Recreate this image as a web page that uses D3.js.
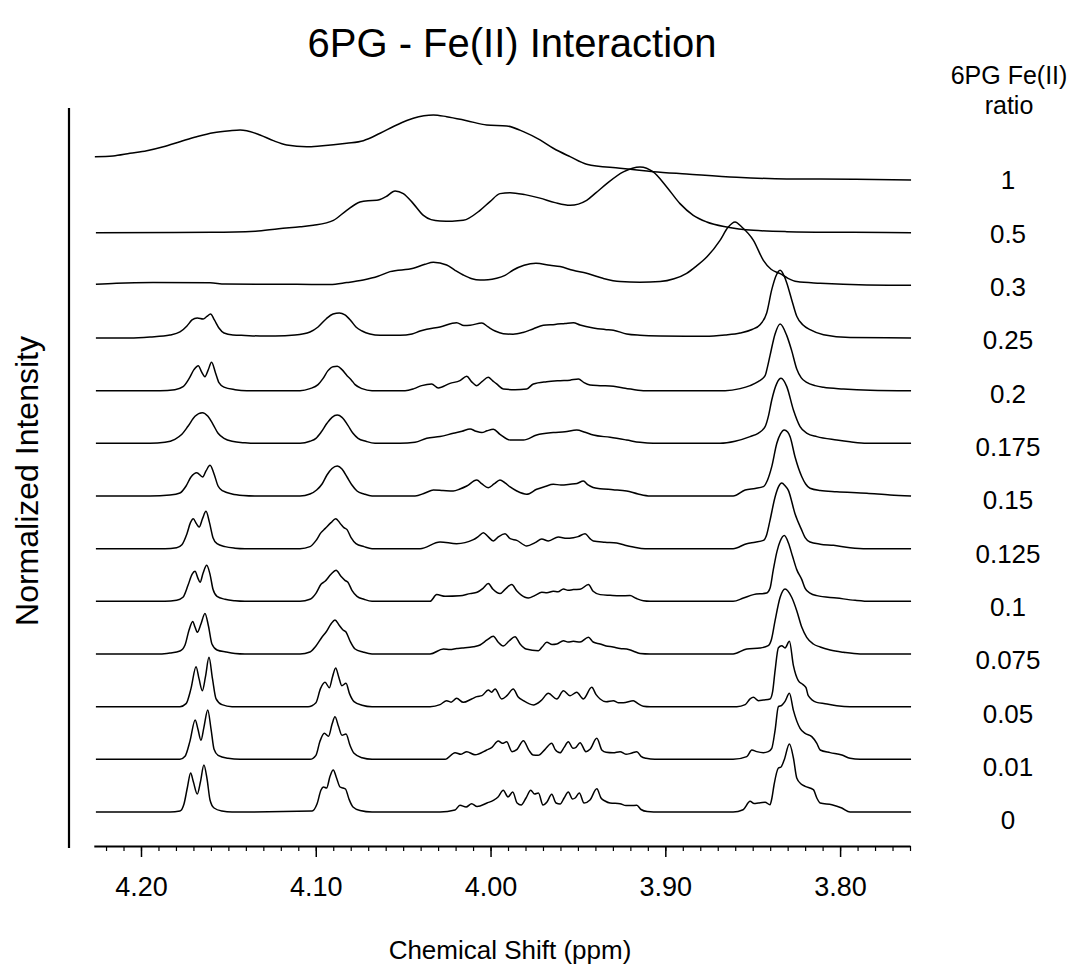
<!DOCTYPE html>
<html><head><meta charset="utf-8">
<script src="https://cdn.jsdelivr.net/npm/d3@7"></script>
<style>
body{margin:0;background:#fff}
svg{display:block}
text{font-family:"Liberation Sans",Arial,Helvetica,sans-serif;fill:#000}
</style>
</head><body>
<svg id="chart" width="1082" height="970"></svg>
<script>
// ---- data: chemical shift (ppm), intensity (a.u.) ----
const ratioLabels = ["0","0.01","0.05","0.075","0.1","0.125","0.15","0.175","0.2","0.25","0.3","0.5","1"];

const spec_0 = [[4.2258,0],[4.1834,0],[4.1777,1],[4.1754,8],[4.1734,25],[4.1716,39],[4.1700,30],[4.1678,18],[4.1660,30],[4.1640,47],[4.1622,33],[4.1605,12],[4.1582,4],[4.1537,1],[4.1479,0],
[4.1021,1],[4.0993,8],[4.0970,22],[4.0956,25],[4.0938,24],[4.0918,36],[4.0900,42],[4.0881,34],[4.0861,25],[4.0844,24],[4.0830,23],[4.0810,13],[4.0787,5],[4.0747,1.5],[4.0678,0],
[4.0289,0],[4.0203,2],[4.0175,6.7],[4.0140,5],[4.0108,8.3],[4.0077,5.5],[4.0020,9],[3.9984,11.7],[3.9957,15],[3.9927,21.7],[3.9900,15],[3.9873,20],[3.9848,9],[3.9825,7],[3.9797,14],[3.9770,21.7],[3.9748,18],[3.9726,19],[3.9700,7],[3.9677,10],[3.9650,17.7],[3.9625,9],[3.9602,8],[3.9579,14],[3.9555,20],[3.9531,13],[3.9516,14],[3.9492,19],[3.9465,9],[3.9431,12],[3.9392,23.3],[3.9368,14],[3.9345,11],[3.9316,9],[3.9259,8.3],[3.9225,6.5],[3.9196,6.5],[3.9163,6.7],[3.9139,2.5],[3.9104,0.5],[3.9030,0],
[3.8612,0],[3.8555,2.3],[3.8515,10.7],[3.8492,8.5],[3.8468,9],[3.8429,9.7],[3.8401,7.3],[3.8390,14],[3.8378,27],[3.8353,44],[3.8338,45],[3.8320,52],[3.8290,68],[3.8267,54],[3.8248,34],[3.8223,28],[3.8200,25.7],[3.8153,22.3],[3.8133,14],[3.8114,9],[3.8047,7.3],[3.7990,4],[3.7943,0],[3.7594,0]];

const spec_001 = [[4.2258,0],[4.1777,0],[4.1748,3],[4.1720,18],[4.1690,39.3],[4.1674,30],[4.1657,19],[4.1640,32],[4.1618,49.3],[4.1599,30],[4.1582,10],[4.1559,4],[4.1502,1],[4.1433,0],
[4.1033,0],[4.0999,4],[4.0976,18],[4.0951,26],[4.0927,23],[4.0907,35],[4.0890,42.6],[4.0870,33],[4.0850,24],[4.0827,25.3],[4.0804,14],[4.0781,6],[4.0735,1.5],[4.0678,0],
[4.0260,0],[4.0203,6.7],[4.0169,5],[4.0136,7.7],[4.0089,4.5],[4.0022,9.3],[3.9992,12],[3.9956,18.3],[3.9932,16],[3.9908,17.5],[3.9877,7.7],[3.9848,10],[3.9812,18.7],[3.9780,9],[3.9757,4.3],[3.9728,4],[3.9688,10],[3.9650,16],[3.9631,10],[3.9602,6.5],[3.9579,12],[3.9555,17.7],[3.9528,11],[3.9511,12],[3.9488,16.7],[3.9454,7.7],[3.9431,10],[3.9392,21],[3.9362,9],[3.9339,7],[3.9299,6.5],[3.9259,7.7],[3.9225,5],[3.9196,6],[3.9163,7.7],[3.9139,3],[3.9110,1],[3.9059,0],
[3.8612,0],[3.8534,2.7],[3.8505,9.3],[3.8477,7.7],[3.8439,6.7],[3.8411,7.7],[3.8391,11],[3.8372,29],[3.8353,52.7],[3.8334,54],[3.8315,58],[3.8290,66],[3.8267,49],[3.8229,31],[3.8200,26],[3.8162,22.7],[3.8133,16],[3.8114,9.3],[3.8057,6.7],[3.7990,4.3],[3.7943,1],[3.7886,0],[3.7594,0]];

const spec_005 = [[4.2258,0],[4.1777,0],[4.1742,3],[4.1714,18],[4.1685,40],[4.1668,28],[4.1649,16],[4.1631,30],[4.1611,49.3],[4.1591,28],[4.1571,8],[4.1537,2],[4.1479,0],
[4.1044,0],[4.0999,4],[4.0973,18],[4.0947,24.3],[4.0922,19],[4.0904,30],[4.0886,38.7],[4.0869,30],[4.0851,21],[4.0827,23.3],[4.0807,13],[4.0781,5],[4.0735,1.5],[4.0678,0],
[4.0346,0],[4.0289,2],[4.0251,6],[4.0226,4.5],[4.0194,8.3],[4.0156,4.3],[4.0108,7.7],[4.0079,10],[4.0049,11],[4.0013,16.7],[3.9994,14.5],[3.9974,17.7],[3.9936,7.7],[3.9906,11],[3.9870,17.7],[3.9843,10],[3.9812,6],[3.9755,1.7],[3.9711,6],[3.9669,13.3],[3.9621,7.7],[3.9583,16],[3.9545,11],[3.9507,14.3],[3.9469,7.7],[3.9421,19.3],[3.9396,12],[3.9373,7.7],[3.9339,5],[3.9297,6],[3.9270,4],[3.9240,4],[3.9183,6],[3.9156,3],[3.9126,0.5],[3.9087,0],
[3.8591,0],[3.8543,2],[3.8515,7.7],[3.8496,9.3],[3.8467,6],[3.8439,6.7],[3.8401,7.7],[3.8386,15],[3.8372,36],[3.8353,59],[3.8334,61],[3.8315,58.7],[3.8290,65.3],[3.8267,41],[3.8239,26],[3.8212,22],[3.8195,19],[3.8182,11],[3.8134,4.3],[3.8086,3],[3.8019,1],[3.7943,0],[3.7594,0]];

const spec_0075 = [[4.2258,0],[4.1891,0],[4.1834,1],[4.1777,3],[4.1748,9],[4.1725,24],[4.1704,32.6],[4.1691,27],[4.1678,21.7],[4.1657,30],[4.1634,40.6],[4.1614,28],[4.1594,10],[4.1565,4],[4.1514,2],[4.1462,0.5],[4.1405,0],
[4.1090,0],[4.1033,2],[4.0999,8],[4.0964,17],[4.0941,22],[4.0913,30],[4.0890,34],[4.0867,29],[4.0844,24],[4.0827,22],[4.0804,13],[4.0775,5],[4.0730,2],[4.0678,0],
[4.0346,0],[4.0270,5],[4.0232,4.5],[4.0194,5.5],[4.0163,6],[4.0098,7.3],[4.0060,9],[4.0020,14],[3.9984,17.7],[3.9957,12],[3.9927,8],[3.9894,13],[3.9860,17.3],[3.9831,10],[3.9797,5],[3.9726,3.3],[3.9705,7],[3.9678,11.7],[3.9648,9.5],[3.9621,10],[3.9583,13.3],[3.9557,12],[3.9526,12.7],[3.9488,12],[3.9440,16.7],[3.9413,12],[3.9373,10],[3.9339,8],[3.9299,7],[3.9259,5.5],[3.9221,5],[3.9185,3],[3.9145,0.5],[3.9087,0],
[3.8612,0],[3.8534,5],[3.8458,6],[3.8411,8.3],[3.8392,15],[3.8372,33.3],[3.8343,56.7],[3.8315,65],[3.8277,56.7],[3.8248,43.3],[3.8219,26.7],[3.8191,16.7],[3.8153,10],[3.8114,7],[3.8057,4],[3.7981,1.7],[3.7886,0],[3.7594,0]];

const spec_01 = [[4.2258,0],[4.1863,0],[4.1796,1],[4.1760,4],[4.1731,16],[4.1708,27],[4.1691,30],[4.1674,23],[4.1662,19],[4.1645,28],[4.1624,36],[4.1605,27],[4.1588,12],[4.1565,5],[4.1519,2],[4.1462,0.5],[4.1405,0],
[4.1090,0],[4.1033,2],[4.0999,8],[4.0970,17],[4.0947,20],[4.0913,27],[4.0884,31],[4.0856,25],[4.0833,21],[4.0816,19],[4.0793,11],[4.0764,5],[4.0724,2],[4.0678,0],
[4.0346,0],[4.0308,6.7],[4.0260,5],[4.0175,5.5],[4.0117,7.7],[4.0077,9],[4.0043,13],[4.0013,17.7],[3.9986,12],[3.9946,7.7],[3.9917,12],[3.9879,16.7],[3.9848,10],[3.9803,4],[3.9784,3.3],[3.9745,6],[3.9707,9],[3.9677,8.5],[3.9641,10],[3.9614,9.5],[3.9583,12.3],[3.9557,11],[3.9526,11.7],[3.9488,12],[3.9440,16.7],[3.9413,10],[3.9373,6.7],[3.9316,6],[3.9259,5.5],[3.9202,5.7],[3.9168,3],[3.9126,0.5],[3.9087,0],
[3.8612,0],[3.8553,3.3],[3.8496,6.7],[3.8420,8.3],[3.8401,13],[3.8382,31.7],[3.8361,50],[3.8343,60],[3.8319,65.7],[3.8295,58],[3.8272,45],[3.8248,31.7],[3.8219,21.7],[3.8200,13],[3.8172,8.3],[3.8133,5.7],[3.8019,3.3],[3.7914,1],[3.7828,0],[3.7594,0]];

const spec_0125 = [[4.2258,0],[4.1863,0],[4.1796,1],[4.1766,4],[4.1737,15],[4.1717,26],[4.1701,30],[4.1683,25],[4.1667,21.7],[4.1648,30],[4.1628,37.3],[4.1608,26],[4.1588,11],[4.1565,5],[4.1519,2],[4.1462,0.5],[4.1405,0],
[4.1090,0],[4.1033,2],[4.0999,8],[4.0970,16],[4.0947,20],[4.0913,26],[4.0886,30],[4.0859,25],[4.0839,21],[4.0821,19],[4.0798,11],[4.0770,5],[4.0724,2],[4.0678,0],
[4.0403,0],[4.0289,6.7],[4.0194,5],[4.0098,9],[4.0071,12],[4.0041,16],[4.0014,12],[3.9984,7.7],[3.9954,12],[3.9917,15],[3.9888,10],[3.9850,8.3],[3.9793,2.7],[3.9745,6],[3.9707,9.7],[3.9669,7.7],[3.9612,11.7],[3.9564,10.3],[3.9526,11],[3.9499,12],[3.9459,15],[3.9431,10],[3.9412,7.7],[3.9345,6.5],[3.9278,5.7],[3.9231,3.5],[3.9183,1.7],[3.9116,0],
[3.8612,0],[3.8534,5],[3.8486,6.5],[3.8439,8.3],[3.8420,14],[3.8401,28.3],[3.8372,51.7],[3.8352,62],[3.8334,65.7],[3.8315,63],[3.8296,58.3],[3.8258,35],[3.8219,18.3],[3.8200,11],[3.8172,6.7],[3.8114,4.5],[3.8038,3.3],[3.7943,1],[3.7847,0],[3.7594,0]];

const spec_015 = [[4.2258,0],[4.1948,0],[4.1834,1],[4.1777,3],[4.1742,10],[4.1714,19],[4.1681,23.3],[4.1647,19],[4.1628,25],[4.1605,30.7],[4.1582,22],[4.1559,10],[4.1531,5],[4.1479,2],[4.1416,0.5],[4.1348,0],
[4.1090,0],[4.1033,2],[4.0995,6],[4.0964,12],[4.0936,21],[4.0907,27.5],[4.0877,30],[4.0850,27],[4.0821,19],[4.0793,11],[4.0764,5],[4.0724,2],[4.0678,0],
[4.0432,0],[4.0375,3],[4.0327,6],[4.0272,5.5],[4.0213,5],[4.0175,7],[4.0136,10],[4.0079,16],[4.0049,12],[4.0013,8.3],[3.9980,12],[3.9946,16],[3.9917,13],[3.9888,9],[3.9850,5],[3.9793,1.7],[3.9736,6.7],[3.9688,9.5],[3.9641,11.7],[3.9597,11],[3.9545,11.7],[3.9505,12.5],[3.9469,15],[3.9442,11],[3.9413,8.5],[3.9373,7.3],[3.9299,6.3],[3.9221,5],[3.9156,2],[3.9087,0],
[3.8612,0],[3.8543,6],[3.8486,7.5],[3.8439,9.3],[3.8415,16],[3.8391,29.3],[3.8362,52.7],[3.8341,62],[3.8320,66],[3.8300,64],[3.8286,59.3],[3.8258,39.3],[3.8219,19.3],[3.8197,12],[3.8172,7.7],[3.8114,5.5],[3.8019,4.3],[3.7847,2.7],[3.7714,1],[3.7594,0]];

const spec_0175 = [[4.2258,0],[4.1948,0],[4.1863,1],[4.1806,4],[4.1766,9],[4.1731,17],[4.1691,27],[4.1649,30.6],[4.1617,27],[4.1588,19],[4.1559,10],[4.1525,5],[4.1479,2],[4.1405,0.5],[4.1348,0],
[4.1090,0],[4.1033,2],[4.0999,5],[4.0970,11],[4.0936,20],[4.0907,26],[4.0877,28.3],[4.0850,26],[4.0816,18],[4.0787,10],[4.0758,5],[4.0713,2],[4.0661,0],
[4.0518,0],[4.0432,1],[4.0365,5],[4.0289,6.7],[4.0213,10],[4.0163,12],[4.0117,14.3],[4.0083,12],[4.0050,10.7],[4.0020,12.5],[3.9984,14],[3.9946,9],[3.9888,3.3],[3.9812,3.3],[3.9736,8.3],[3.9641,10.7],[3.9574,11.5],[3.9507,13.3],[3.9459,11],[3.9412,8.3],[3.9316,6],[3.9221,3.3],[3.9145,1],[3.9070,0],
[3.8687,0],[3.8601,2],[3.8515,6.7],[3.8469,10],[3.8429,16.7],[3.8409,28],[3.8391,43.3],[3.8362,60],[3.8338,65],[3.8305,56.7],[3.8267,33.3],[3.8229,16.7],[3.8189,10],[3.8133,6.7],[3.8019,3.3],[3.7943,1.5],[3.7847,0],[3.7594,0]];

const spec_02 = [[4.2258,0],[4.1891,0],[4.1806,1],[4.1759,4],[4.1725,12],[4.1697,21],[4.1672,25],[4.1654,19],[4.1634,14],[4.1617,20],[4.1596,28.3],[4.1574,18],[4.1554,8],[4.1525,3.5],[4.1462,1],[4.1394,0],
[4.1090,0],[4.1033,2],[4.0987,6],[4.0959,12],[4.0930,20],[4.0901,24],[4.0877,24.3],[4.0850,21],[4.0821,15],[4.0798,11],[4.0775,6],[4.0735,2],[4.0678,0],
[4.0489,0],[4.0438,2],[4.0394,5],[4.0337,6.7],[4.0299,2.7],[4.0232,7.3],[4.0175,10],[4.0136,14.3],[4.0109,9],[4.0079,5],[4.0049,9],[4.0013,13.3],[3.9989,10],[3.9965,6.7],[3.9927,1.7],[3.9860,1],[3.9793,1.7],[3.9755,6.7],[3.9679,9],[3.9602,10],[3.9545,10.5],[3.9497,11.7],[3.9465,8],[3.9431,5.7],[3.9373,5],[3.9297,4.3],[3.9230,2.5],[3.9126,0],
[3.8658,0],[3.8572,2],[3.8515,5],[3.8469,9],[3.8429,15],[3.8415,24],[3.8401,35],[3.8372,56.7],[3.8343,66.7],[3.8305,55],[3.8277,40],[3.8248,21.7],[3.8223,13],[3.8191,8.3],[3.8143,5],[3.8095,3.3],[3.7981,1.7],[3.7828,0.5],[3.7594,0]];

const spec_025 = [[4.2258,0],[4.2063,0],[4.1948,1],[4.1834,3],[4.1777,6],[4.1737,12],[4.1708,18],[4.1678,20],[4.1644,19],[4.1623,21.5],[4.1602,24],[4.1580,18],[4.1554,10],[4.1525,5],[4.1474,3],[4.1405,2.5],[4.1319,2],[4.1233,2],[4.1119,3],[4.1033,6],[4.0987,11],[4.0941,19],[4.0901,24],[4.0865,25],[4.0833,23],[4.0798,17],[4.0770,11],[4.0735,7],[4.0690,4],[4.0632,2.7],[4.0518,2.7],[4.0449,4],[4.0403,7],[4.0365,8.7],[4.0289,11],[4.0194,15.3],[4.0152,12.5],[4.0117,12.7],[4.0050,15],[4.0014,11],[3.9974,7],[3.9927,4.3],[3.9871,3.7],[3.9814,5.5],[3.9757,9],[3.9698,12.7],[3.9631,13.5],[3.9574,14.5],[3.9526,15.3],[3.9488,13],[3.9412,10],[3.9345,8.5],[3.9297,7.7],[3.9221,4],[3.9145,2.7],[3.9030,2],[3.8773,1.7],[3.8658,3],[3.8572,5],[3.8504,8.5],[3.8458,13.3],[3.8420,25],[3.8391,48.3],[3.8367,62],[3.8343,67.6],[3.8320,62],[3.8305,55],[3.8277,38.3],[3.8248,21.7],[3.8212,13],[3.8172,8.3],[3.8095,3.3],[3.7943,0.5],[3.7594,0]];

const spec_03 = [[4.2258,1],[4.2141,2],[4.1931,2.7],[4.1605,2.5],[4.1519,1.2],[4.1109,1],[4.0918,0.8],[4.0823,2.7],[4.0728,5.3],[4.0644,9],[4.0575,13.7],[4.0442,17],[4.0375,21],[4.0327,23],[4.0251,20.3],[4.0203,15],[4.0156,10.3],[4.0106,6.5],[4.0060,5.3],[4.0014,5.5],[3.9965,7],[3.9917,10],[3.9870,15.3],[3.9808,20],[3.9740,22],[3.9660,20],[3.9602,18.7],[3.9528,15],[3.9450,12],[3.9357,7],[3.9259,3.7],[3.9145,3],[3.9030,3.7],[3.8950,6.5],[3.8878,12],[3.8824,19],[3.8763,28.3],[3.8687,45],[3.8641,58],[3.8601,63.3],[3.8561,58],[3.8496,45],[3.8439,25],[3.8395,16],[3.8343,11.7],[3.8298,7],[3.8248,3.7],[3.8114,2],[3.7847,0.3],[3.7594,0]];

const spec_05 = [[4.2258,0],[4.1595,0.3],[4.1345,1.3],[4.1212,4],[4.1090,5.8],[4.1014,7.3],[4.0899,12.3],[4.0823,22.3],[4.0747,30.7],[4.0701,32],[4.0651,32.3],[4.0598,36],[4.0546,41.7],[4.0499,39],[4.0442,29],[4.0384,17.3],[4.0340,13],[4.0289,11.7],[4.0220,11.5],[4.0156,12.3],[4.0060,22.3],[4.0003,31],[3.9946,39],[3.9888,40],[3.9803,38],[3.9717,34.5],[3.9631,30],[3.9545,27.3],[3.9450,32.3],[3.9396,40],[3.9335,49],[3.9240,60.7],[3.9145,65.7],[3.9069,60.7],[3.8992,45.7],[3.8916,29],[3.8840,17.3],[3.8763,10.7],[3.8649,5.7],[3.8496,2.3],[3.8305,1],[3.7925,0.3],[3.7594,0]];

const spec_1 = [[4.2264,23.3],[4.2160,24],[4.2063,26.7],[4.1967,29.3],[4.1872,33.3],[4.1777,38.3],[4.1681,43.3],[4.1586,47.3],[4.1491,49.3],[4.1433,50],[4.1395,49.3],[4.1319,45],[4.1243,39.3],[4.1166,35],[4.1052,33.3],[4.0976,34],[4.0823,36.7],[4.0728,39.3],[4.0632,46.7],[4.0537,55],[4.0442,61.7],[4.0327,65],[4.0251,63.3],[4.0136,59.3],[4.0022,55],[3.9907,54],[3.9812,48.3],[3.9717,40],[3.9641,31.7],[3.9545,23.3],[3.9450,15.7],[3.9259,11.7],[3.9069,8.3],[3.8878,6],[3.8592,2.7],[3.8305,1],[3.7925,0.7],[3.7594,0]];

const spectra = [spec_0, spec_001, spec_005, spec_0075, spec_01, spec_0125, spec_015, spec_0175, spec_02, spec_025, spec_03, spec_05, spec_1];

const majorTickValues = [4.20, 4.10, 4.00, 3.90, 3.80];
const majorTickLabels = ["4.20", "4.10", "4.00", "3.90", "3.80"];

// ---- drawing ----
const svg = d3.select("#chart");
const x = d3.scaleLinear().domain([4.227, 3.76]).range([93.8, 910]);
const stackStep = 52.67;
const y = d3.scaleLinear().domain([0, 700]).range([812, 112]);
const labelY = d3.scaleLinear().domain([0, 12]).range([820, 180]);

const line = d3.line()
  .x(d => x(d[0]))
  .y(d => y(d[1]))
  .curve(d3.curveMonotoneX);

const gTraces = svg.append("g");
spectra.forEach((s, i) => {
  gTraces.append("path")
    .datum(s.map(p => [p[0], p[1] + i * stackStep]))
    .attr("d", line)
    .attr("fill", "none")
    .attr("stroke", "#000")
    .attr("stroke-width", 1.5)
    .attr("stroke-linejoin", "round");
});

// x axis
const axisY = 846;
const minorTicks = d3.range(0, 47).map(k => +(4.22 - k * 0.01).toFixed(2));
const gAxis = svg.append("g").attr("transform", `translate(0,${axisY})`);
gAxis.call(d3.axisBottom(x).tickValues(minorTicks).tickSize(5).tickSizeOuter(0).tickFormat(""));
gAxis.call(g => g.select(".domain").attr("stroke-width", 2.2).attr("stroke", "#000"));
gAxis.selectAll(".tick line").attr("stroke", "#000").attr("stroke-width", 1.2);
const gMajor = svg.append("g").attr("transform", `translate(0,${axisY})`);
gMajor.call(d3.axisBottom(x).tickValues(majorTickValues).tickSize(11).tickSizeOuter(0)
  .tickFormat((d, i) => majorTickLabels[i]));
gMajor.select(".domain").remove();
gMajor.selectAll(".tick line").attr("stroke", "#000").attr("stroke-width", 1.5);
gMajor.selectAll(".tick text")
  .attr("y", 0).attr("dy", 0)
  .attr("transform", "translate(0,50)")
  .style("font-size", "27px")
  .style("font-family", '"Liberation Sans", Arial, sans-serif')
  .attr("fill", "#000");

// y axis line
svg.append("line").attr("x1", 69).attr("x2", 69).attr("y1", 108).attr("y2", 848)
  .attr("stroke", "#000").attr("stroke-width", 2.2);

// titles
svg.append("text").attr("x", 512).attr("y", 57).attr("text-anchor", "middle")
  .style("font-size", "40px").text("6PG - Fe(II) Interaction");
svg.append("text").attr("x", 510).attr("y", 959).attr("text-anchor", "middle")
  .style("font-size", "26px").text("Chemical Shift (ppm)");
svg.append("text").attr("transform", "translate(38,481) rotate(-90)").attr("text-anchor", "middle")
  .style("font-size", "32px").text("Normalized Intensity");

// legend column
svg.append("text").attr("x", 1009).attr("y", 84).attr("text-anchor", "middle")
  .style("font-size", "25px").text("6PG Fe(II)");
svg.append("text").attr("x", 1009).attr("y", 114).attr("text-anchor", "middle")
  .style("font-size", "25px").text("ratio");
svg.append("g").selectAll("text").data(ratioLabels).join("text")
  .attr("x", 1008).attr("y", (d, i) => labelY(i)).attr("dy", "0.36em")
  .attr("text-anchor", "middle").style("font-size", "26px").text(d => d);
</script>
</body></html>
